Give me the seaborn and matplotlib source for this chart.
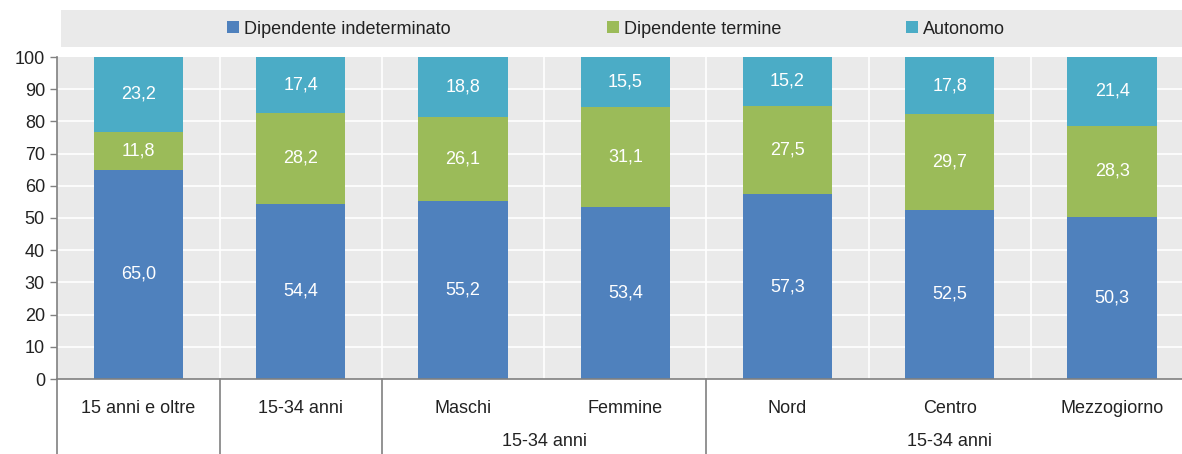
import matplotlib
matplotlib.use("Agg")
import matplotlib.pyplot as plt
import seaborn as sns
import numpy as np
from matplotlib import font_manager
from matplotlib.patches import Patch, Rectangle
import matplotlib.transforms as mtransforms

categories = ["15 anni e oltre", "15-34 anni", "Maschi", "Femmine", "Nord", "Centro", "Mezzogiorno"]
indeterminato = [65.0, 54.4, 55.2, 53.4, 57.3, 52.5, 50.3]
termine = [11.8, 28.2, 26.1, 31.1, 27.5, 29.7, 28.3]
autonomo = [23.2, 17.4, 18.8, 15.5, 15.2, 17.8, 21.4]
series_names = ["Dipendente indeterminato", "Dipendente termine", "Autonomo"]
group_labels = ["15-34 anni", "15-34 anni"]

sns.set_theme(style="white")
names = {f.name for f in font_manager.fontManager.ttflist}
fam = "Liberation Sans Narrow" if "Liberation Sans Narrow" in names else "Liberation Sans"
plt.rcParams['font.family'] = [fam, 'DejaVu Sans']

colors = ["#4F81BD", "#9BBB59", "#4BACC6"]
bg = "#EAEAEA"

fig = plt.figure(figsize=(11.82, 4.54), dpi=100)
W, H = 1182, 454
x0, x1 = 57.4, 1193.2
ytop, ybot = 57, 379
ax = fig.add_axes([x0 / W, (H - ybot) / H, (x1 - x0) / W, (ybot - ytop) / H])
ax.set_facecolor(bg)

bottom = np.zeros(len(categories))
for vals, col in zip([indeterminato, termine, autonomo], colors):
    sns.barplot(x=categories, y=vals, bottom=bottom, color=col, width=0.55,
                ax=ax, saturation=1, zorder=3, edgecolor="none", linewidth=0)
    for i, (v, b) in enumerate(zip(vals, bottom)):
        ax.text(i, b + v / 2, f"{v:.1f}".replace(".", ","), ha="center", va="center",
                color="white", fontsize=13, zorder=4)
    bottom = bottom + np.array(vals)

ax.set_xlim(-0.5, 6.5)
ax.set_ylim(0, 100)
ax.set_yticks(range(0, 101, 10))
ax.tick_params(axis="y", left=True, length=5, width=1, color="#808080", labelsize=13, pad=4, labelcolor="#222222")
ax.tick_params(axis="x", bottom=False, labelsize=13, pad=9, labelcolor="#222222")
ax.set_xticks(range(len(categories)))
ax.set_xticklabels(categories)
for y in range(10, 100, 10):
    ax.axhline(y, color="white", lw=1.2, zorder=1)
for xb in np.arange(0.5, 6.5, 1):
    ax.axvline(xb, color="white", lw=1.2, zorder=1)
for s in ["top", "right"]:
    ax.spines[s].set_visible(False)
for s in ["left", "bottom"]:
    ax.spines[s].set_color("#808080")
    ax.spines[s].set_linewidth(1.2)
    ax.spines[s].set_zorder(5)
ax.set_xlabel("")
ax.set_ylabel("")

trans = mtransforms.blended_transform_factory(ax.transData, ax.transAxes)
for xb in [-0.5, 0.5, 1.5, 3.5]:
    ax.plot([xb, xb], [0, -80 / 322], transform=trans, color="#808080", lw=1.2, clip_on=False, zorder=5)
ax.text(2.5, -62 / 322, group_labels[0], transform=trans, ha="center", va="center", fontsize=13, color="#222222")
ax.text(5.0, -62 / 322, group_labels[1], transform=trans, ha="center", va="center", fontsize=13, color="#222222")

# legend band
fig.patches.append(Rectangle((61 / W, (H - 47) / H), (W - 61) / W, 37 / H, transform=fig.transFigure,
                             facecolor=bg, edgecolor="none", zorder=0))
legend_x = [227, 607, 906]
for c, name, lx in zip(colors, series_names, legend_x):
    fig.legend([Patch(facecolor=c, edgecolor="none")], [name], loc="center left",
               bbox_to_anchor=(lx / W, (H - 29) / H), frameon=False, fontsize=13,
               handlelength=0.65, handleheight=0.65, handletextpad=0.3,
               borderpad=0, borderaxespad=0, labelcolor="#222222")

fig.savefig("out.png", dpi=100)
